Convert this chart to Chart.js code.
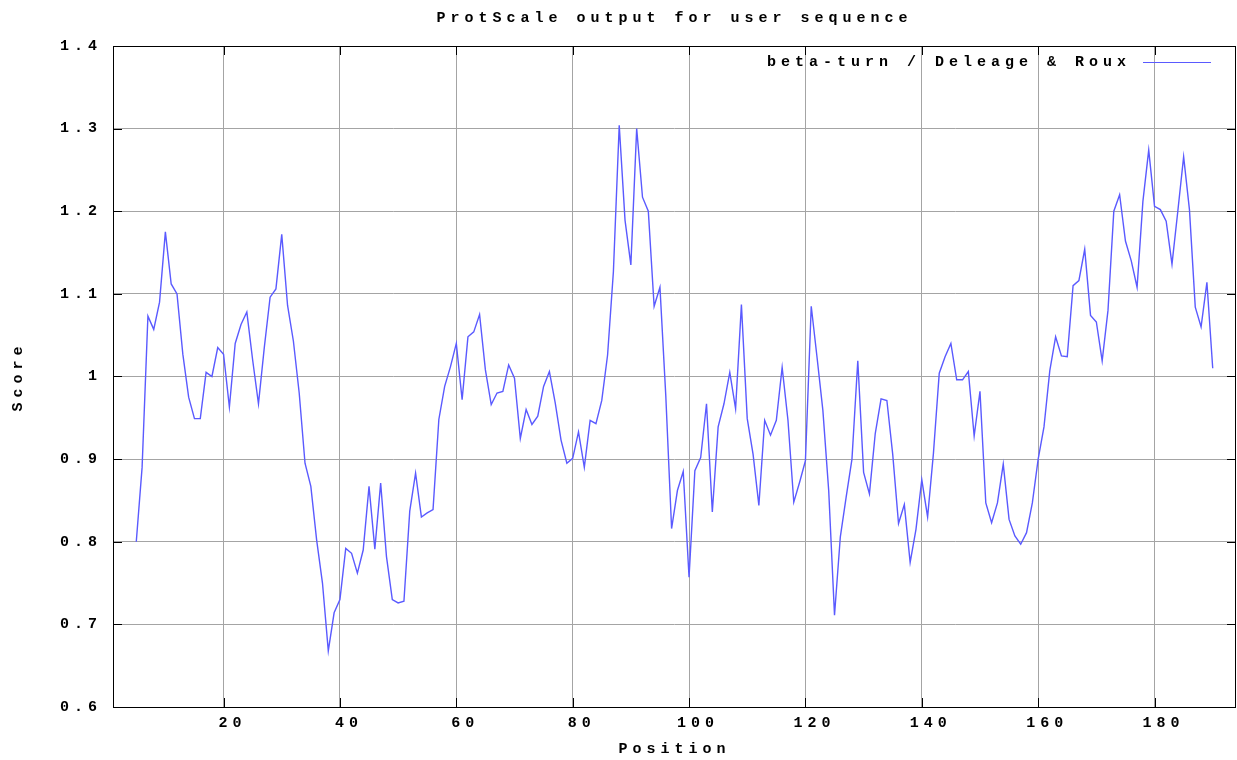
<!DOCTYPE html>
<html>
<head>
<meta charset="utf-8">
<script src="https://cdn.jsdelivr.net/npm/chart.js@4/dist/chart.umd.min.js"></script>
<style>
  html, body { margin: 0; padding: 0; background: #fff; }
</style>
</head>
<body>
<canvas id="chart" width="1237" height="760"></canvas>
<script>
const chartTitle = 'ProtScale output for user sequence';
const seriesLabel = 'beta-turn / Deleage & Roux';
const xTitle = 'Position';
const yTitle = 'Score';
const xTicks = [20, 40, 60, 80, 100, 120, 140, 160, 180];
const yTicks = [0.6, 0.7, 0.8, 0.9, 1.0, 1.1, 1.2, 1.3, 1.4];
const firstPosition = 5;   // window of 9 -> first score at residue 5

// scores for residues 5..190
const scores = [
  0.800, 0.890, 1.073, 1.057, 1.090, 1.175, 1.112, 1.100, 1.027, 0.975,
  0.949, 0.949, 1.005, 1.000, 1.035, 1.027, 0.963, 1.040, 1.063, 1.078,
  1.020, 0.967, 1.035, 1.096, 1.106, 1.172, 1.086, 1.043, 0.980, 0.895,
  0.867, 0.802, 0.750, 0.668, 0.714, 0.730, 0.792, 0.786, 0.762, 0.790,
  0.867, 0.791, 0.871, 0.782, 0.730, 0.726, 0.728, 0.837, 0.883, 0.830,
  0.835, 0.839, 0.948, 0.988, 1.012, 1.040, 0.972, 1.048, 1.054, 1.075,
  1.008, 0.966, 0.980, 0.982, 1.014, 0.998, 0.925, 0.960, 0.942, 0.952,
  0.988, 1.006, 0.968, 0.923, 0.895, 0.901, 0.933, 0.890, 0.947, 0.943,
  0.971, 1.026, 1.127, 1.304, 1.189, 1.135, 1.300, 1.217, 1.200, 1.085,
  1.108, 0.977, 0.816, 0.862, 0.885, 0.757, 0.886, 0.902, 0.967, 0.836,
  0.939, 0.967, 1.005, 0.961, 1.087, 0.949, 0.906, 0.844, 0.947, 0.929,
  0.947, 1.011, 0.947, 0.848, 0.872, 0.898, 1.085, 1.023, 0.959, 0.862,
  0.711, 0.806, 0.854, 0.900, 1.019, 0.884, 0.858, 0.931, 0.973, 0.971,
  0.906, 0.822, 0.845, 0.775, 0.815, 0.875, 0.830, 0.907, 1.004, 1.024,
  1.040, 0.996, 0.996, 1.006, 0.928, 0.982, 0.847, 0.823, 0.847, 0.894,
  0.827, 0.807, 0.797, 0.811, 0.847, 0.900, 0.939, 1.007, 1.048, 1.025,
  1.024, 1.110, 1.116, 1.154, 1.074, 1.066, 1.019, 1.080, 1.200, 1.220,
  1.164, 1.140, 1.108, 1.212, 1.274, 1.206, 1.202, 1.188, 1.136, 1.200,
  1.266, 1.202, 1.084, 1.060, 1.114, 1.010
];
const positions = scores.map((s, i) => firstPosition + i);

const lineColor = 'rgb(90, 90, 255)';
const gridColor = '#a4a4a4';
const font = { family: '"Liberation Mono", "DejaVu Sans Mono", monospace', size: 15, weight: 'bold' };
const spacing = '5px';

// gnuplot-like wide letter spacing on all canvas text
const letterSpacing = {
  id: 'letterSpacing',
  beforeUpdate(chart) { chart.ctx.letterSpacing = spacing; },
  beforeDraw(chart) { chart.ctx.letterSpacing = spacing; }
};

// frame with inward tick marks on all four sides
const frame = {
  id: 'frame',
  beforeDatasetsDraw(chart) {
    const { ctx, chartArea: a, scales: { x, y } } = chart;
    const len = 9;
    ctx.save();
    ctx.strokeStyle = '#000';
    ctx.lineWidth = 1;
    ctx.beginPath();
    x.ticks.forEach(t => {
      const px = Math.round(x.getPixelForValue(t.value)) + 0.5;
      ctx.moveTo(px, a.bottom); ctx.lineTo(px, a.bottom - len);
      ctx.moveTo(px, a.top); ctx.lineTo(px, a.top + len);
    });
    y.ticks.forEach(t => {
      const py = Math.round(y.getPixelForValue(t.value)) + 0.5;
      ctx.moveTo(a.left, py); ctx.lineTo(a.left + len, py);
      ctx.moveTo(a.right, py); ctx.lineTo(a.right - len, py);
    });
    ctx.stroke();
    ctx.strokeRect(Math.round(a.left) + 0.5, Math.round(a.top) + 0.5,
                   Math.round(a.right - a.left) - 1, Math.round(a.bottom - a.top));
    ctx.restore();
  }
};

// key drawn inside the plot, top right, text then line sample
const insideKey = {
  id: 'insideKey',
  afterDatasetsDraw(chart) {
    const { ctx, chartArea: a } = chart;
    const ds = chart.data.datasets[0];
    const y = Math.round(a.top + 16) + 0.5;
    const lineEnd = a.right - 25;
    const lineStart = lineEnd - 68;
    ctx.save();
    ctx.strokeStyle = ds.borderColor;
    ctx.lineWidth = 1;
    ctx.beginPath();
    ctx.moveTo(lineStart, y);
    ctx.lineTo(lineEnd, y);
    ctx.stroke();
    ctx.letterSpacing = spacing;
    ctx.font = font.weight + ' ' + font.size + 'px ' + font.family;
    ctx.fillStyle = '#000';
    ctx.textAlign = 'right';
    ctx.textBaseline = 'middle';
    ctx.fillText(ds.label, lineStart - 12, y);
    ctx.restore();
  }
};

const ctx = document.getElementById('chart').getContext('2d');
const chart = new Chart(ctx, {
  type: 'line',
  data: {
    datasets: [{
      label: seriesLabel,
      data: positions.map((p, i) => ({ x: p, y: scores[i] })),
      borderColor: lineColor,
      backgroundColor: lineColor,
      borderWidth: 1.4,
      pointRadius: 0,
      tension: 0,
      fill: false
    }]
  },
  options: {
    responsive: false,
    animation: false,
    layout: { padding: { left: 0, right: 1, top: 0, bottom: 0 } },
    plugins: {
      legend: { display: false },
      tooltip: { enabled: false },
      title: {
        display: true,
        text: chartTitle,
        fullSize: false,
        color: '#000',
        font: font,
        padding: { top: 9, bottom: 19 }
      }
    },
    scales: {
      x: {
        type: 'linear',
        min: 1,
        max: 194,
        afterBuildTicks: axis => { axis.ticks = xTicks.map(v => ({ value: v })); },
        ticks: { color: '#000', font: font, padding: 7, labelOffset: 9, maxRotation: 0, autoSkip: false },
        grid: { color: gridColor, drawTicks: false },
        border: { display: false },
        title: { display: true, text: xTitle, color: '#000', font: font, padding: { top: 1, bottom: 2 } }
      },
      y: {
        type: 'linear',
        min: 0.6,
        max: 1.4,
        afterBuildTicks: axis => { axis.ticks = yTicks.map(v => ({ value: v })); },
        ticks: {
          color: '#000', font: font, padding: 11,
          callback: v => String(Math.round(v * 10) / 10)
        },
        grid: { color: gridColor, drawTicks: false },
        border: { display: false },
        title: { display: true, text: yTitle, color: '#000', font: font, padding: { top: 9, bottom: 22 } }
      }
    }
  },
  plugins: [letterSpacing, frame, insideKey]
});
</script>
</body>
</html>
